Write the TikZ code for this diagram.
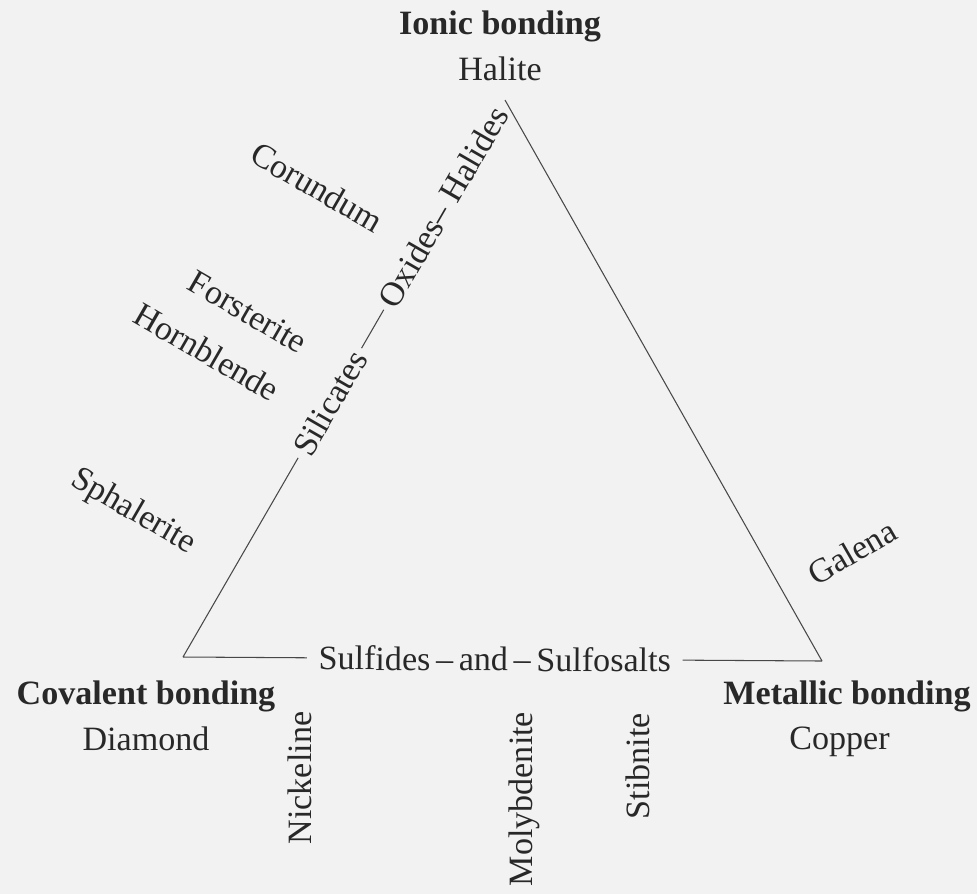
\documentclass[tikz,border=0pt]{standalone}
\usepackage{fontspec}
\setmainfont{Liberation Serif}
\usetikzlibrary{positioning}

\definecolor{paper}{RGB}{242,242,242}
\definecolor{ink}{RGB}{40,40,40}

\begin{document}
\begin{tikzpicture}[
    x=0.02cm, y=-0.02cm,
    bond/.style={font=\fontsize{19.4}{23}\selectfont\bfseries, text=ink, inner sep=0pt},
    mineral/.style={font=\fontsize{19.4}{23}\selectfont, text=ink, inner sep=0pt},
    family/.style={font=\fontsize{19.4}{23}\selectfont, text=ink, inner ysep=0pt, inner xsep=3pt, sloped},
    side/.style={draw=ink!85, line width=0.6pt}
]
    \path[use as bounding box, fill=paper] (0,0) rectangle (977,894);

    % Corners of the triangle
    \coordinate (ionic) at (505,100);
    \coordinate (covalent) at (183,657);
    \coordinate (metallic) at (822,661);

    % Bonding types
    \node[bond, anchor=base] (ionicL) at (500,34) {Ionic bonding};
    \node[mineral, below=0.3cm of ionicL] (halite) {Halite};
    \node[bond, anchor=base] (covalentL) at (146,704) {Covalent bonding};
    \node[mineral, below=0.3cm of covalentL] (diamond) {Diamond};
    \node[bond, anchor=base] (metallicL) at (847,704) {Metallic bonding};
    \node[mineral, below=0.3cm of metallicL, xshift=-0.15cm] (copper) {Copper};

    % Mineral classes on the sides
    \path (covalent) -- (ionic)
        node[family, pos=0.456] (silicates) {Silicates}
        node[family, pos=0.808] (oxides) {Oxides--~Halides};
    \path (covalent) -- (metallic)
        node[family, pos=0.488, inner xsep=6.5pt] (sulfides) {Sulfides\,--\,and\,--\,Sulfosalts};

    \draw[side] (covalent) -- (silicates.west);
    \draw[side] (silicates.east) -- (oxides.west);
    \draw[side] (ionic) -- (metallic);
    \draw[side] (covalent) -- (sulfides.west);
    \draw[side] (sulfides.east) -- (metallic);

    % Minerals
    \node[mineral, rotate=-30] (corundum) at (317,187) {Corundum};
    \node[mineral, rotate=-30] (forsterite) at (248,312) {Forsterite};
    \node[mineral, rotate=-30] (hornblende) at (207,352) {Hornblende};
    \node[mineral, rotate=-30] (sphalerite) at (133,512) {Sphalerite};
    \node[mineral, rotate=30] (galena) at (852,552) {Galena};
    \node[mineral, rotate=90] (nickeline) at (300,778) {Nickeline};
    \node[mineral, rotate=90] (molybdenite) at (524,799) {Molybdenite};
    \node[mineral, rotate=90] (stibnite) at (638,766) {Stibnite};

\end{tikzpicture}
\end{document}
